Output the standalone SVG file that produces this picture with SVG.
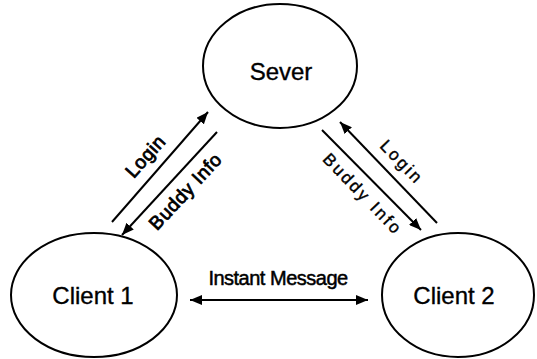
<svg xmlns="http://www.w3.org/2000/svg" width="537" height="359" viewBox="0 0 537 359">
  <style>
    .node ellipse { fill: #ffffff; stroke: #000000; stroke-width: 2; }
    .node text { font-family: "Liberation Sans", Arial, sans-serif; font-size: 24px; fill: #000000; stroke: #000000; stroke-width: 0.35; text-anchor: middle; }
    .link { stroke: #000000; stroke-width: 2; fill: none; }
    .lbl { font-family: "Liberation Sans", Arial, sans-serif; fill: #000000; text-anchor: middle; }
    .tight { font-size: 19px; stroke: #000000; stroke-width: 0.8; letter-spacing: 0.6px; }
    .wide { font-size: 17px; stroke: #000000; stroke-width: 0.4; letter-spacing: 2.5px; }
    .msg { font-family: "Liberation Sans", Arial, sans-serif; font-size: 20px; fill: #000000; stroke: #000000; stroke-width: 0.5; text-anchor: middle; letter-spacing: -0.5px; }
  </style>
  <defs>
    <marker id="head" markerUnits="userSpaceOnUse" markerWidth="13" markerHeight="10" refX="12" refY="5" orient="auto-start-reverse">
      <path d="M0,0 L12,5 L0,10 Z" fill="#000000"/>
    </marker>
  </defs>

  <rect width="537" height="359" fill="#ffffff"/>

  <g id="server" class="node">
    <ellipse cx="280" cy="66" rx="77" ry="62"/>
    <text x="281" y="80">Sever</text>
  </g>

  <g id="client1" class="node">
    <ellipse cx="94" cy="295" rx="83" ry="62"/>
    <text x="93" y="304">Client 1</text>
  </g>

  <g id="client2" class="node">
    <ellipse cx="458" cy="295" rx="76" ry="62"/>
    <text x="454" y="304">Client 2</text>
  </g>

  <g id="connectors">
    <line class="link" x1="112" y1="222" x2="208" y2="112" marker-end="url(#head)"/>
    <line class="link" x1="217" y1="132" x2="122" y2="235" marker-end="url(#head)"/>
    <line class="link" x1="437" y1="223" x2="340" y2="122" marker-end="url(#head)"/>
    <line class="link" x1="322" y1="130" x2="421" y2="230" marker-end="url(#head)"/>
    <line class="link" x1="190" y1="300" x2="368" y2="300" marker-start="url(#head)" marker-end="url(#head)"/>

    <text class="lbl tight" transform="translate(145,156) rotate(-48)" y="7">Login</text>
    <text class="lbl tight" transform="translate(185,191) rotate(-47)" y="7">Buddy Info</text>
    <text class="lbl wide" transform="translate(402,162) rotate(46)" y="6">Login</text>
    <text class="lbl wide" transform="translate(363,194) rotate(46)" y="6">Buddy Info</text>
    <text class="msg" x="278" y="285">Instant Message</text>
  </g>
</svg>
